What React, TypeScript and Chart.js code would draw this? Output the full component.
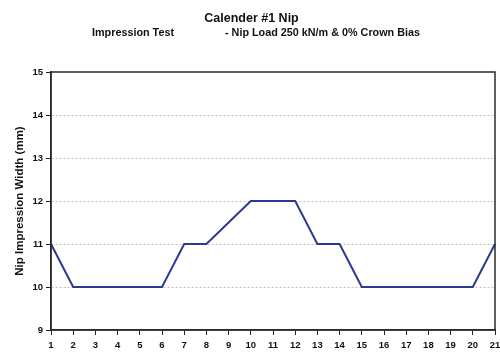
import React, { useEffect, useRef } from "react";
import { Chart, registerables } from "chart.js";

Chart.register(...registerables);

const positions: string[] = ["1","2","3","4","5","6","7","8","9","10","11","12","13","14","15","16","17","18","19","20","21"];
const impressionWidth: number[] = [11, 10, 10, 10, 10, 10, 11, 11, 11.5, 12, 12, 12, 11, 11, 10, 10, 10, 10, 10, 10, 11];
const yTicks: number[] = [9, 10, 11, 12, 13, 14, 15];
const titleText = "Calender #1 Nip";
const subtitleLeft = "Impression Test";
const subtitleRight = "- Nip Load 250 kN/m & 0% Crown Bias";
const yAxisTitle = "Nip Impression Width (mm)";

const FONT = "'Liberation Sans', Arial, Helvetica, sans-serif";

const framePlugin = {
  id: "frame",
  afterDatasetsDraw(chart: any) {
    const { ctx, chartArea } = chart;
    ctx.save();
    ctx.strokeStyle = "#2a2a2a";
    ctx.lineWidth = 1.5;
    ctx.strokeRect(chartArea.left, chartArea.top, chartArea.right - chartArea.left, chartArea.bottom - chartArea.top);
    ctx.restore();
  },
};

const headerPlugin = {
  id: "header",
  afterDraw(chart: any) {
    const { ctx } = chart;
    ctx.save();
    ctx.fillStyle = "#111";
    ctx.textBaseline = "middle";
    ctx.textAlign = "center";
    ctx.font = `bold 12.5px ${FONT}`;
    ctx.fillText(titleText, 251.5, 19);
    ctx.font = `bold 10.8px ${FONT}`;
    ctx.textAlign = "left";
    ctx.fillText(subtitleLeft, 92, 33);
    ctx.fillText(subtitleRight, 225, 33);
    ctx.restore();
  },
};

export default function App() {
  const ref = useRef<HTMLCanvasElement | null>(null);
  useEffect(() => {
    if (!ref.current) return;
    const chart = new Chart(ref.current, {
      type: "line",
      data: {
        labels: positions,
        datasets: [
          {
            data: impressionWidth,
            borderColor: "#2b3a8e",
            borderWidth: 2,
            pointRadius: 0,
            tension: 0,
            fill: false,
          },
        ],
      },
      options: {
        animation: false,
        responsive: false,
        layout: { padding: { left: 0, right: 5, top: 72, bottom: 0 } },
        plugins: {
          legend: { display: false },
          tooltip: { enabled: false },
          title: { display: false },
          subtitle: { display: false },
        },
        scales: {
          x: {
            type: "category",
            offset: false,
            afterFit: (s: any) => { s.height = 24; s.paddingRight = 0; s.paddingLeft = 0; },
            grid: { display: true, drawOnChartArea: false, drawTicks: true, tickLength: 5, tickColor: "#222", color: "#222" },
            border: { display: true, color: "#222", width: 1.5 },
            ticks: {
              color: "#111",
              font: { family: FONT, size: 9.5, weight: "bold" },
              padding: 5,
              maxRotation: 0,
              autoSkip: false,
            },
          },
          y: {
            min: 9,
            max: 15,
            afterFit: (s: any) => { s.width = 51; s.paddingTop = 0; s.paddingBottom = 0; },
            afterBuildTicks: (s: any) => { s.ticks = yTicks.map((v) => ({ value: v })); },
            grid: {
              color: (c: any) => (c.tick && (c.tick.value === 9 || c.tick.value === 15) ? "rgba(0,0,0,0)" : "#c0c0c0"),
              lineWidth: 1,
              drawTicks: true,
              tickLength: 5,
              tickColor: "#222",
              tickBorderDash: [],
            },
            border: { display: true, color: "#222", width: 1.5, dash: [2, 2] },
            ticks: {
              color: "#111",
              font: { family: FONT, size: 9.5, weight: "bold" },
              padding: 3,
              stepSize: 1,
            },
            title: {
              display: true,
              text: yAxisTitle,
              color: "#111",
              font: { family: FONT, size: 11.5, weight: "bold" },
              padding: { top: 13, bottom: 0 },
            },
          },
        },
      },
      plugins: [framePlugin, headerPlugin],
    } as any);
    return () => chart.destroy();
  }, []);
  return (
    <div style={{ position: "fixed", left: 0, top: 0, width: 500, height: 354, background: "#fff" }}>
      <canvas ref={ref} width={500} height={354} style={{ width: 500, height: 354, display: "block" }} />
    </div>
  );
}
